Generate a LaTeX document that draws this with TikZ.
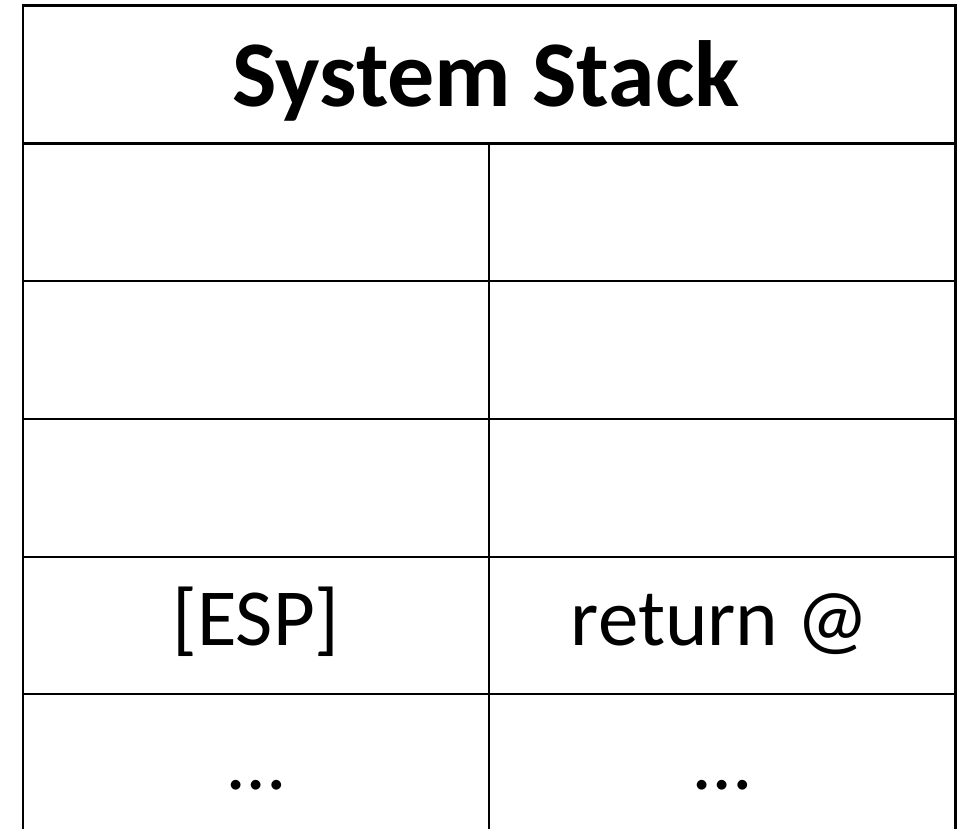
\documentclass[tikz,border=0pt]{standalone}
\usepackage{fontspec}
\setmainfont{Carlito}
\begin{document}
\begin{tikzpicture}[x=1pt,y=-1pt,
  grid/.style={line width=2.7pt,line cap=rect,black},
  title/.style={font=\bfseries\fontsize{94}{110}\selectfont,anchor=base,inner sep=0pt},
  entry/.style={font=\fontsize{81}{95}\selectfont,anchor=base,inner sep=0pt}]
\useasboundingbox (0,0) rectangle (958,829);
% outer frame and header
\coordinate (tl) at (23,5.5);
\coordinate (tr) at (955.5,5.5);
\coordinate (bl) at (23,829);
\coordinate (br) at (955.5,829);
\draw[grid] (bl) -- (tl) -- (tr) -- (br);
% row separators
\foreach \y in {143.5,281,419,557,694}
  \draw[grid] (23,\y) -- (955.5,\y);
% column separator
\coordinate (mt) at (489,143.5);
\coordinate (mb) at (489,829);
\draw[grid] (mt) -- (mb);
% texts
\node[title] (head) at (486,107) {System Stack};
\node[entry] (esp) at (256,645) {[ESP]};
\node[entry] (ret) at (720,645) {return @};
\node[entry] (dl) at (256,789) {…};
\node[entry] (dr) at (722,789) {…};
\end{tikzpicture}
\end{document}
